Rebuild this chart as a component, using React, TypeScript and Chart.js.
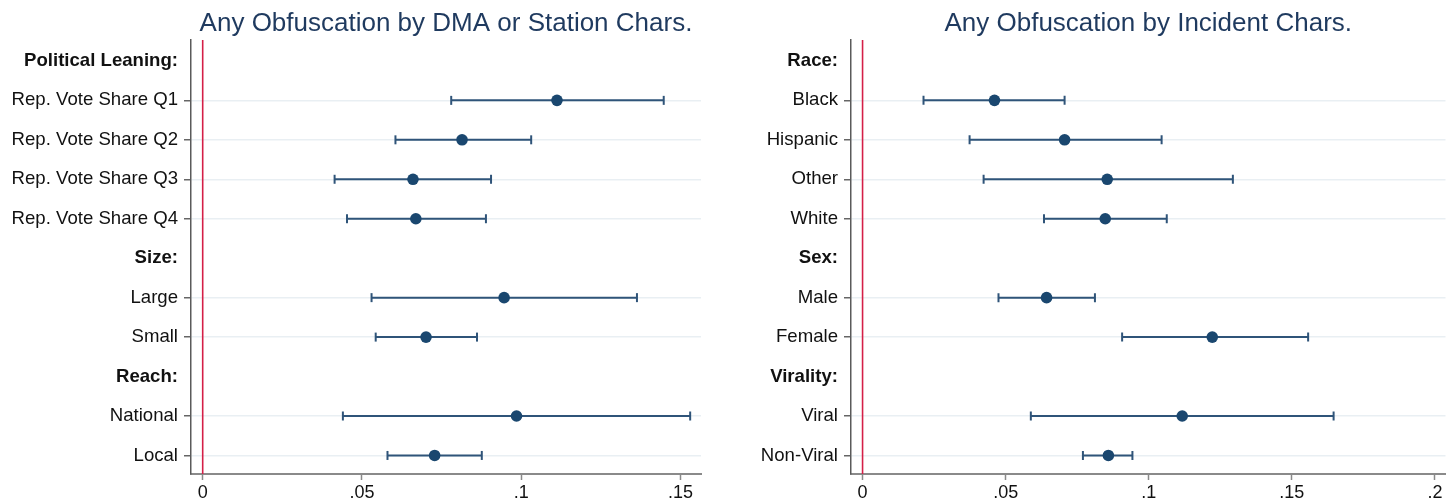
import React, { useEffect, useRef } from "react";
import { Chart, registerables } from "chart.js";

Chart.register(...registerables);

// ---------- data ----------
const leftTitle = "Any Obfuscation by DMA or Station Chars.";
const leftLabels = [
  "Political Leaning:",
  "Rep. Vote Share Q1",
  "Rep. Vote Share Q2",
  "Rep. Vote Share Q3",
  "Rep. Vote Share Q4",
  "Size:",
  "Large",
  "Small",
  "Reach:",
  "National",
  "Local",
];
const leftHeader = [true, false, false, false, false, true, false, false, true, false, false];
const leftEst = [null, 0.1112, 0.0814, 0.0660, 0.0669, null, 0.0946, 0.0701, null, 0.0985, 0.0728];
const leftLo = [null, 0.0780, 0.0605, 0.0414, 0.0453, null, 0.0530, 0.0543, null, 0.0440, 0.0580];
const leftHi = [null, 0.1447, 0.1031, 0.0905, 0.0889, null, 0.1363, 0.0861, null, 0.1530, 0.0876];
const leftXTicks = [0, 0.05, 0.1, 0.15];
const leftXTickLabels = ["0", ".05", ".1", ".15"];

const rightTitle = "Any Obfuscation by Incident Chars.";
const rightLabels = [
  "Race:",
  "Black",
  "Hispanic",
  "Other",
  "White",
  "Sex:",
  "Male",
  "Female",
  "Virality:",
  "Viral",
  "Non-Viral",
];
const rightHeader = [true, false, false, false, false, true, false, false, true, false, false];
const rightEst = [null, 0.0461, 0.0706, 0.0855, 0.0848, null, 0.0643, 0.1222, null, 0.1117, 0.0859];
const rightLo = [null, 0.0213, 0.0374, 0.0423, 0.0634, null, 0.0475, 0.0907, null, 0.0588, 0.0770];
const rightHi = [null, 0.0706, 0.1045, 0.1294, 0.1063, null, 0.0812, 0.1557, null, 0.1646, 0.0943];
const rightXTicks = [0, 0.05, 0.1, 0.15, 0.2];
const rightXTickLabels = ["0", ".05", ".1", ".15", ".2"];

const refLineX = 0;

// ---------- style ----------
const FONT = "'Liberation Sans', Arial, sans-serif";
const NAVY = "#1a476f";
const BAR = "#2f5479";
const RED = "#d41f47";
const TITLE_COLOR = "#1f3a5f";
const GRID = "#e9eff3";

interface PanelProps {
  title: string;
  labels: string[];
  header: boolean[];
  est: (number | null)[];
  lo: (number | null)[];
  hi: (number | null)[];
  xTicks: number[];
  xTickLabels: string[];
  xMin: number;
  xMax: number;
  yAxisWidth: number;
  padRight: number;
}

function Panel(p: PanelProps) {
  const ref = useRef<HTMLCanvasElement | null>(null);
  useEffect(() => {
    if (!ref.current) return;
    const yMin = -0.53;
    const yMax = 10.47;
    const pts: any[] = [];
    const bars: any[] = [];
    p.labels.forEach((_, i) => {
      const e = p.est[i];
      const l = p.lo[i];
      const h = p.hi[i];
      if (e !== null) pts.push({ x: e, y: i });
      if (l !== null && h !== null) {
        bars.push({ x: l, y: i });
        bars.push({ x: h, y: i });
        bars.push({ x: null, y: null });
      }
    });
    const chart = new Chart(ref.current, {
      type: "scatter",
      data: {
        datasets: [
          {
            type: "scatter",
            data: pts,
            backgroundColor: NAVY,
            borderColor: NAVY,
            borderWidth: 0,
            pointRadius: 5.8,
            pointHoverRadius: 5.8,
            order: 0,
          } as any,
          {
            type: "line",
            data: bars,
            borderColor: BAR,
            borderWidth: 2,
            spanGaps: false,
            pointStyle: "line",
            pointRotation: 90,
            pointRadius: 4.5,
            pointBorderColor: BAR,
            pointBorderWidth: 2,
            fill: false,
            tension: 0,
            order: 1,
          } as any,
          {
            type: "line",
            data: [
              { x: refLineX, y: yMin },
              { x: refLineX, y: yMax },
            ],
            borderColor: RED,
            borderWidth: 1.6,
            pointRadius: 0,
            fill: false,
            order: 2,
          } as any,
        ],
      },
      options: {
        animation: false,
        responsive: false,
        maintainAspectRatio: false,
        layout: { padding: { left: 0, right: p.padRight, top: 0, bottom: 0 } },
        plugins: {
          legend: { display: false },
          tooltip: { enabled: false },
          title: {
            display: true,
            text: p.title,
            fullSize: false,
            color: TITLE_COLOR,
            font: { family: FONT, size: 26, weight: "normal", lineHeight: 1.0 },
            padding: { top: 10.6, bottom: 3.4 },
          },
        },
        scales: {
          x: {
            type: "linear",
            min: p.xMin,
            max: p.xMax,
            afterBuildTicks: (scale: any) => {
              scale.ticks = p.xTicks.map((v) => ({ value: v }));
            },
            afterFit: (scale: any) => {
              scale.height = 30;
            },
            ticks: {
              autoSkip: false,
              maxRotation: 0,
              padding: 2,
              color: "#111",
              font: { family: FONT, size: 18 },
              callback: (v: any) => {
                const idx = p.xTicks.indexOf(Number(v));
                return idx >= 0 ? p.xTickLabels[idx] : "";
              },
            },
            grid: {
              drawOnChartArea: false,
              drawTicks: true,
              tickLength: 6,
              tickColor: "#8a8a8a",
              tickWidth: 1.5,
            },
            border: { display: true, color: "#8a8a8a", width: 2 },
          },
          y: {
            type: "linear",
            min: yMin,
            max: yMax,
            reverse: true,
            afterBuildTicks: (scale: any) => {
              scale.ticks = p.labels.map((_, i) => ({ value: i }));
            },
            afterFit: (scale: any) => {
              scale.width = p.yAxisWidth;
            },
            ticks: {
              autoSkip: false,
              padding: 6,
              color: "#111",
              font: (ctx: any) => ({
                family: FONT,
                size: 18.6,
                weight: ctx.tick && p.header[ctx.tick.value] ? "bold" : "normal",
              }),
              callback: (v: any) => p.labels[Number(v)] ?? "",
            },
            grid: {
              drawOnChartArea: true,
              drawTicks: true,
              tickLength: 7,
              lineWidth: 1.5,
              tickWidth: 1.5,
              color: (ctx: any) =>
                ctx.tick && p.header[ctx.tick.value] ? "rgba(0,0,0,0)" : GRID,
              tickColor: (ctx: any) =>
                ctx.tick && p.header[ctx.tick.value] ? "rgba(0,0,0,0)" : "#666",
            },
            border: { display: true, color: "#5a5a5a", width: 1.5 },
          },
        },
      } as any,
    });
    return () => chart.destroy();
  }, []);
  return <canvas ref={ref} width={726} height={504} style={{ display: "block", width: 726, height: 504 }} />;
}

export default function App() {
  return (
    <div style={{ position: "absolute", left: 0, top: 0, width: 1452, height: 504, background: "#fff", display: "flex" }}>
      <Panel
        title={leftTitle}
        labels={leftLabels}
        header={leftHeader}
        est={leftEst}
        lo={leftLo}
        hi={leftHi}
        xTicks={leftXTicks}
        xTickLabels={leftXTickLabels}
        xMin={-0.00367}
        xMax={0.1564}
        yAxisWidth={191}
        padRight={25}
      />
      <Panel
        title={rightTitle}
        labels={rightLabels}
        header={rightHeader}
        est={rightEst}
        lo={rightLo}
        hi={rightHi}
        xTicks={rightXTicks}
        xTickLabels={rightXTickLabels}
        xMin={-0.00404}
        xMax={0.2037}
        yAxisWidth={125}
        padRight={0}
      />
    </div>
  );
}
